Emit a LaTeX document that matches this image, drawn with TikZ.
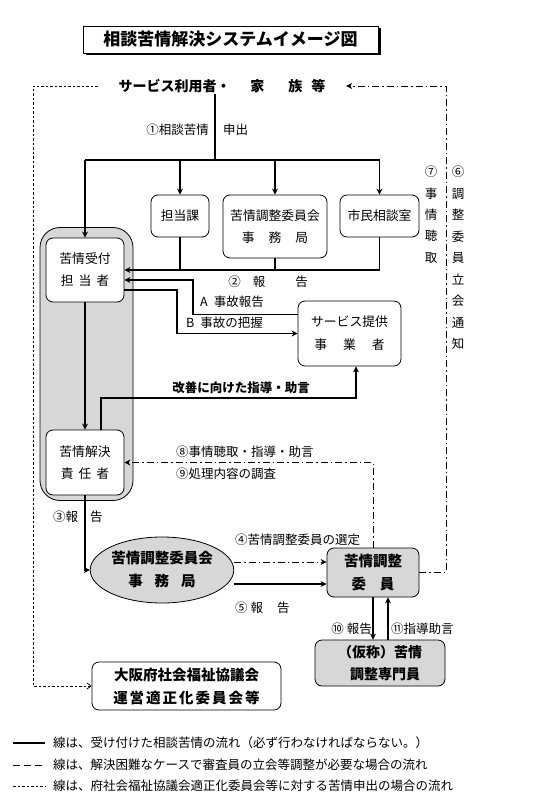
\documentclass[tikz,border=0pt]{standalone}
\usepackage{fontspec}
\setmainfont{Noto Sans CJK JP}
\usetikzlibrary{arrows.meta,shapes.geometric,shadows}
\definecolor{lgray}{RGB}{215,215,215}
\tikzset{
  box/.style={draw, line width=0.8pt, rounded corners=7pt, fill=white, inner sep=0pt, align=center},
  gbox/.style={box, fill=lgray},
  arr/.style={line width=1.6pt, -{Stealth[length=6pt,width=6pt]}},
  sl/.style={line width=1.6pt},
  dd/.style={line width=0.8pt, dash pattern=on 7pt off 3pt on 1.5pt off 3pt},
  ddarr/.style={dd, -{Stealth[length=6pt,width=6pt]}},
  dt/.style={line width=0.8pt, dash pattern=on 2.5pt off 2pt},
  dtarr/.style={dt, -{Straight Barb[length=4pt,width=6pt]}},
  lbl/.style={inner sep=0pt, font=\fontsize{12.5}{14}\selectfont},
  bfont/.style={font=\fontsize{12.8}{22}\selectfont},
}
\begin{document}
\begin{tikzpicture}[x=1pt,y=-1pt]
\useasboundingbox (0,0) rectangle (536,800);

% title
\node[draw, line width=0.8pt, fill=white, minimum width=295pt, minimum height=27pt, inner sep=0pt,
  general shadow={fill=black, shadow xshift=2.5pt, shadow yshift=-2.5pt},
  font=\fontsize{17}{18}\selectfont\bfseries] (title) at (230.5,39.5) {相談苦情解決システムイメージ図};

% user
\node[minimum width=248pt, minimum height=16pt, inner sep=0pt, font=\fontsize{14}{16}\selectfont\bfseries]
  (user) at (222,86) {サービス利用者・\hspace{20pt}家\hspace{24pt}族\hspace{9pt}等};

% gray container
\node[draw, line width=0.8pt, fill=lgray, rounded corners=20pt, minimum width=93pt, minimum height=273pt, inner sep=0pt]
  (grp) at (86.5,364) {};

% boxes
\node[box, bfont, minimum width=78pt, minimum height=64pt] (rec1) at (85,270) {苦情受付\\担\hspace{5pt}当\hspace{5pt}者};
\node[box, bfont, minimum width=78pt, minimum height=65pt] (rec2) at (85,462.5) {苦情解決\\責\hspace{5pt}任\hspace{5pt}者};
\node[box, bfont, minimum width=58pt, minimum height=42pt] (tan) at (180,216) {担当課};
\node[box, bfont, minimum width=104pt, minimum height=63pt] (jim) at (275,226.5) {苦情調整委員会\\事\hspace{14pt}務\hspace{14pt}局};
\node[box, bfont, minimum width=79pt, minimum height=42pt] (shimin) at (379.5,216) {市民相談室};
\node[box, minimum width=103pt, minimum height=65pt, font=\fontsize{12.8}{23}\selectfont] (svc) at (349.5,333.5) {サービス提供\\事\hspace{16pt}業\hspace{16pt}者};
\node[draw, line width=0.8pt, fill=lgray, ellipse, minimum width=142pt, minimum height=66pt, inner sep=0pt, align=center,
  font=\fontsize{14.5}{23}\selectfont\bfseries] (ell) at (162,570) {苦情調整委員会\\事\hspace{12pt}務\hspace{12pt}局};
\node[gbox, minimum width=92pt, minimum height=49pt, font=\fontsize{14.5}{23}\selectfont\bfseries] (iin) at (373,572.5) {苦情調整\\委\hspace{14pt}員};
\node[gbox, minimum width=130pt, minimum height=46pt, font=\fontsize{14}{22}\selectfont\bfseries] (kak) at (380,663) {（仮称）苦情\\\hspace{10pt}調整専門員};
\node[box, minimum width=189pt, minimum height=48pt, font=\fontsize{14.5}{23}\selectfont\bfseries] (osaka) at (186.5,686) {大阪府社会福祉協議会\\運\hspace{2pt}営\hspace{2pt}適\hspace{2pt}正\hspace{2pt}化\hspace{2pt}委\hspace{2pt}員\hspace{2pt}会\hspace{2pt}等};

% coordinates
\coordinate (j1) at (215,160);
\coordinate (jl) at (85,160);
\coordinate (jr) at (379.5,160);
\coordinate (kA) at (193,280);
\coordinate (kB) at (177,290);
\coordinate (kC) at (101,398);
\coordinate (kD) at (356,398);
\coordinate (kF) at (0,562);
\coordinate (kG) at (0,584);
\coordinate (kH) at (446,86);
\coordinate (kI) at (33,86);
\coordinate (kJ) at (388,0);

% (1) complaint
\draw[sl] (user.south -| j1) -- (j1);
\draw[sl] (jl) -- (jr);
\draw[arr] (jl) -- (rec1.north);
\draw[arr] (j1 -| tan.north) -- (tan.north);
\draw[arr] (j1 -| jim.north) -- (jim.north);
\draw[arr] (jr) -- (shimin.north);
\node[lbl, anchor=east] at (209,130) {①相談苦情};
\node[lbl, anchor=west] at (223,130) {申出};

% (2) report
\draw[arr] (shimin.south) |- (rec1.east);
\draw[sl] (tan.south) -- (tan.south |- rec1.east);
\draw[sl] (jim.south) -- (jim.south |- rec1.east);
\node[lbl] at (268,282) {②\hspace{12pt}報\hspace{30pt}告};

% A, B
\draw[arr] (svc.160) -| (kA) -- (rec1.east |- kA);
\draw[arr] (rec1.east |- kB) -- (kB) |- (svc.west);
\node[lbl, anchor=west] at (200,302) {A\hspace{6pt}事故報告};
\node[lbl, anchor=west] at (186,323) {B\hspace{6pt}事故の把握};

% rec1 -> rec2
\draw[arr] (rec1.south) -- (rec2.north);

% improvement
\draw[arr] (rec2.north -| kC) -- (kC) -- (kD) -- (kD |- svc.south);
\node[lbl, font=\fontsize{12.5}{14}\selectfont\bfseries] at (241,388) {改善に向けた指導・助言};

% (8)(9)
\draw[ddarr] (iin.north) |- (rec2.east);
\node[lbl, anchor=west] at (176,452) {⑧事情聴取・指導・助言};
\node[lbl, anchor=west] at (176,474) {⑨処理内容の調査};

% (3)
\draw[arr] (rec2.south) |- (ell.west);
\node[lbl, anchor=west] at (53,517) {③報\hspace{12pt}告};

% (4)(5)
\draw[ddarr] (ell.east |- kF) -- (iin.west |- kF);
\node[lbl, anchor=west] at (235,540) {④苦情調整委員の選定};
\draw[arr] (ell.east |- kG) -- (iin.west |- kG);
\node[lbl, anchor=west] at (235,608) {⑤\hspace{3pt}報\hspace{14pt}告};

% (10)(11)
\draw[arr] (iin.south) -- (iin.south |- kak.north);
\draw[arr] (kak.north -| kJ) -- (iin.south -| kJ);
\node[lbl, anchor=east] at (372,629) {⑩\hspace{3pt}報告};
\node[lbl, anchor=west] at (391,629) {⑪指導助言};

% (6)(7) right dash-dot
\draw[ddarr] (iin.east) -- (iin.east -| kH) -- (kH) -- (user.east);
\node[inner sep=0pt, align=center, anchor=north, font=\fontsize{12.5}{21.4}\selectfont] (t7) at (431,166) {⑦\\事\\情\\聴\\取};
\node[inner sep=0pt, align=center, anchor=north, font=\fontsize{12.5}{21.5}\selectfont] (t6) at (458,166) {⑥\\調\\整\\委\\員\\立\\会\\通\\知};

% left dotted
\draw[dtarr] (user.west) -- (kI) |- (osaka.west);

% legend
\coordinate (l1a) at (13,743); \coordinate (l1b) at (45,743);
\coordinate (l2a) at (13,765); \coordinate (l2b) at (45,765);
\coordinate (l3a) at (13,786); \coordinate (l3b) at (45,786);
\draw[sl] (l1a) -- (l1b);
\draw[line width=0.8pt, dash pattern=on 7pt off 4pt] (l2a) -- (l2b);
\draw[dt] (l3a) -- (l3b);
\node[lbl, anchor=west] at (53,743) {線は、受け付けた相談苦情の流れ（必ず行わなければならない。）};
\node[lbl, anchor=west] at (53,765) {線は、解決困難なケースで審査員の立会等調整が必要な場合の流れ};
\node[lbl, anchor=west] at (53,786) {線は、府社会福祉協議会適正化委員会等に対する苦情申出の場合の流れ};
\end{tikzpicture}
\end{document}
